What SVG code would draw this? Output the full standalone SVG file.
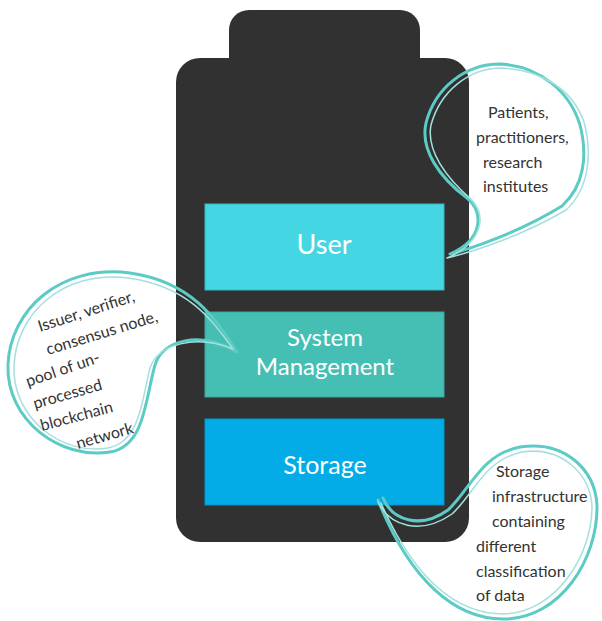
<svg xmlns="http://www.w3.org/2000/svg" width="602" height="621" viewBox="0 0 602 621">
<style>
.body{fill:#313131}
.lbl{font-family:Lato,"Open Sans",sans-serif;fill:#ffffff;text-anchor:middle}
.note{font-family:Lato,"Open Sans",sans-serif;fill:#333333;font-size:16px}
.b1{fill:none;stroke:#5CCAC5;stroke-width:3;stroke-linejoin:round;stroke-linecap:round}
.b2{fill:none;stroke:#A4E0DC;stroke-width:1.5;stroke-linejoin:round;stroke-linecap:round}
</style>
<rect width="602" height="621" fill="#ffffff"/>
<g id="battery">
<rect class="body" x="229" y="10" width="191" height="70" rx="20"/>
<rect class="body" x="176" y="58" width="293" height="484" rx="24"/>
</g>
<g id="user">
<rect x="205" y="204" width="239" height="86" fill="#44D7E3" stroke="#3BB7C3" stroke-width="1"/>
<text class="lbl" x="324" y="254" font-size="27">User</text>
</g>
<g id="system-management">
<rect x="205" y="312" width="239" height="85" fill="#45BFB3" stroke="#3AA79C" stroke-width="1"/>
<text class="lbl" x="325" y="346" font-size="24">System</text>
<text class="lbl" x="325" y="375" font-size="24">Management</text>
</g>
<g id="storage">
<rect x="205" y="419" width="239" height="86" fill="#03ACE6" stroke="#0398CC" stroke-width="1"/>
<text class="lbl" x="325" y="474" font-size="25">Storage</text>
</g>
<g id="connectors">
<path class="b1" d="M237 352 C215 318 192 282 130 273 C60 264 10 310 8 365 C6 420 60 460 110 452 C145 446 145 400 155 365 C162 340 200 330 237 352"/>
<path class="b2" d="M233 349 C212 320 188 286 128 278 C62 270 16 314 14 366 C12 418 62 456 108 448 C140 442 142 400 150 368 C158 344 196 334 233 349"/>
<path class="b1" d="M450 254 C470 249 520 232 562 206 C584 186 588 156 580 125 C570 92 540 66 500 64 C465 64 435 88 426 123 C420 150 440 178 467 198 C485 214 482 240 450 254"/>
<path class="b2" d="M447 258 C472 252 522 236 566 210 C590 188 592 152 584 122 C572 88 540 70 502 68 C468 68 440 92 431 125 C426 150 446 178 472 200 C488 218 480 244 447 258"/>
<path class="b1" d="M383 498 C392 520 420 530 448 510 C470 490 480 455 520 447 C565 440 595 470 597 505 C598 560 560 618 505 619 C455 620 410 580 378 500"/>
<path class="b2" d="M378 502 C390 526 420 536 452 514 C474 494 484 460 522 452 C562 446 590 474 592 506 C592 556 556 612 504 614 C456 614 414 578 381 503"/>
</g>
<g id="note-user">
<text class="note" x="488" y="118">Patients,</text>
<text class="note" x="476" y="143">practitioners,</text>
<text class="note" x="483" y="168">research</text>
<text class="note" x="483" y="192">institutes</text>
</g>
<g id="note-system">
<text class="note" transform="translate(40 332) rotate(-18)">Issuer, verifier,</text>
<text class="note" transform="translate(48 355) rotate(-17)">consensus node,</text>
<text class="note" transform="translate(28 387) rotate(-19)">pool of un-</text>
<text class="note" transform="translate(35 409) rotate(-16)">processed</text>
<text class="note" transform="translate(42 431) rotate(-15)">blockchain</text>
<text class="note" transform="translate(78 449) rotate(-16)">network</text>
</g>
<g id="note-storage">
<text class="note" x="496" y="477">Storage</text>
<text class="note" x="492" y="502">infrastructure</text>
<text class="note" x="492" y="527">containing</text>
<text class="note" x="476" y="552">different</text>
<text class="note" x="476" y="577">classification</text>
<text class="note" x="476" y="601">of data</text>
</g>
</svg>
